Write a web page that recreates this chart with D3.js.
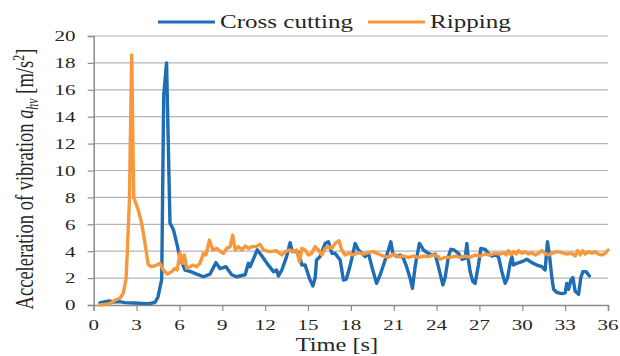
<!DOCTYPE html>
<html>
<head>
<meta charset="utf-8">
<script src="https://cdn.jsdelivr.net/npm/d3@7"></script>
<style>
  html, body { margin: 0; padding: 0; background: #fff; }
  svg { display: block; }
  text { font-family: "Liberation Serif", "Times New Roman", serif; fill: #262626; }
</style>
</head>
<body>
<svg id="chart" width="620" height="356"></svg>
<script>
// ---- data ----
const seriesNames = ["Cross cutting", "Ripping"];
const xTicks = [0, 3, 6, 9, 12, 15, 18, 21, 24, 27, 30, 33, 36];
const yTicks = [0, 2, 4, 6, 8, 10, 12, 14, 16, 18, 20];

const crossTime = [0.44,0.8,1.1,1.4,1.8,2.2,2.8,3.4,3.8,4.1,4.3,4.5,4.76,4.9,5.1,5.34,5.58,5.81,6.04,6.39,6.74,7.21,7.68,8.14,8.56,8.84,9.26,9.66,10.0,10.6,10.83,10.95,11.45,11.8,12.2,12.58,12.8,12.93,13.17,13.5,13.75,13.9,14.1,14.33,14.57,14.8,15.1,15.34,15.5,15.6,15.85,16.2,16.43,16.67,16.9,17.25,17.48,17.67,17.9,18.07,18.3,18.53,18.77,19.0,19.23,19.47,19.8,20.05,20.4,20.63,20.8,20.94,21.2,21.45,21.68,21.9,22.15,22.31,22.5,22.6,22.8,23.08,23.43,23.67,23.9,24.13,24.44,24.6,24.83,25.0,25.23,25.53,25.77,26.0,26.12,26.23,26.35,26.54,26.7,26.93,27.1,27.4,27.63,27.87,28.1,28.33,28.57,28.8,28.96,29.15,29.27,29.38,29.62,29.97,30.32,30.67,31.02,31.37,31.6,31.76,31.9,32.07,32.19,32.42,32.77,33.0,33.12,33.24,33.4,33.54,33.7,33.94,34.1,34.24,34.47,34.7];
const crossValue = [0.15,0.25,0.3,0.22,0.25,0.18,0.15,0.12,0.1,0.15,0.2,0.6,1.9,15.6,18.0,6.1,5.6,4.6,3.5,2.6,2.5,2.3,2.1,2.3,3.15,2.7,2.85,2.25,2.1,2.25,3.1,2.85,4.1,3.6,3.0,2.48,2.6,2.16,2.6,3.6,4.63,3.97,4.0,3.9,2.97,2.97,1.98,1.41,2.0,3.35,3.6,4.58,4.7,3.84,3.84,3.35,1.86,1.9,2.73,3.47,4.58,4.09,3.84,3.6,3.84,2.85,1.61,2.23,3.35,4.09,4.7,3.84,3.6,3.72,3.47,2.85,1.98,1.24,2.85,3.47,4.58,4.09,3.84,3.72,3.78,2.85,1.49,2.04,3.6,4.14,4.09,3.84,3.4,3.47,4.58,3.35,2.48,1.74,1.61,2.97,4.21,4.14,3.84,3.64,3.72,3.59,2.48,1.61,1.98,3.1,3.6,2.97,3.1,3.22,3.4,3.15,2.97,2.85,2.6,4.7,3.72,2.04,1.17,0.93,0.85,0.9,1.61,1.17,1.84,2.04,1.03,0.8,2.04,2.48,2.48,2.16];

const ripTime = [0.44,0.8,1.14,1.5,1.84,2.07,2.26,2.36,2.5,2.66,2.8,3.12,3.36,3.59,3.82,4.06,4.41,4.64,4.87,5.15,5.46,5.69,5.85,6.04,6.23,6.35,6.51,6.74,6.97,7.21,7.44,7.68,7.86,8.1,8.33,8.61,8.84,9.08,9.31,9.55,9.73,9.9,10.13,10.37,10.6,10.83,11.06,11.37,11.65,11.88,12.35,12.8,13.17,13.4,13.75,13.98,14.2,14.4,14.57,14.8,15.03,15.26,15.5,15.73,15.97,16.2,16.43,16.67,16.9,17.18,17.36,17.6,17.83,18.18,18.53,18.88,19.23,19.58,19.93,20.28,20.63,20.98,21.33,21.68,22.03,22.38,22.73,23.08,23.43,23.78,24.13,24.25,24.6,24.95,25.3,25.65,26.0,26.35,26.7,27.05,27.4,27.75,28.1,28.45,28.73,28.87,29.03,29.2,29.38,29.57,29.73,29.97,30.2,30.43,30.67,30.9,31.13,31.37,31.6,31.84,32.07,32.42,32.77,33.12,33.47,33.7,33.87,34.06,34.24,34.4,34.64,34.87,35.1,35.33,35.57,35.8,36.0];
const ripValue = [0.0,0.05,0.1,0.37,0.5,0.87,1.9,4.1,7.8,18.6,8.0,7.06,6.07,4.58,3.0,2.85,2.97,3.1,2.6,2.3,2.48,2.73,2.6,3.89,3.1,3.72,2.73,2.85,2.97,2.85,3.1,3.84,3.72,4.83,4.09,4.21,4.0,3.84,4.21,4.34,5.2,4.09,4.34,4.09,4.39,4.21,4.34,4.34,4.51,4.09,3.97,4.03,3.72,3.97,4.09,3.97,4.09,3.22,4.21,4.09,3.72,3.84,4.34,4.09,3.72,4.21,4.34,4.21,4.58,4.78,4.09,3.72,3.84,3.72,3.89,3.79,3.89,3.97,3.79,3.64,3.54,3.79,3.59,3.64,3.54,3.64,3.54,3.64,3.59,3.72,3.59,3.4,3.54,3.54,3.64,3.54,3.64,3.54,3.72,3.64,3.79,3.72,3.84,3.79,3.89,3.72,4.04,3.72,3.97,3.79,4.04,3.84,3.97,3.79,3.89,3.72,3.84,4.04,3.84,3.72,3.84,3.97,3.89,3.79,3.84,3.64,4.04,3.72,4.04,3.79,3.97,3.84,3.97,3.79,3.72,3.84,4.09];

// ---- layout ----
const colors = ["#1f6db4", "#f7983c"];
const SX = 1.32; // horizontal stretch of the reference's text
const svg = d3.select("#chart");
const x = d3.scaleLinear().domain([0, 36]).range([93.7, 608]);
const y = d3.scaleLinear().domain([0, 20]).range([305, 36]);

// grid lines
svg.append("g").selectAll("line").data(yTicks.filter(d => d > 0)).join("line")
  .attr("x1", x(0)).attr("x2", x(36))
  .attr("y1", d => y(d)).attr("y2", d => y(d))
  .attr("stroke", "#b4b4b4").attr("stroke-width", 1.2);

// y axis
const yAxis = svg.append("g").attr("transform", `translate(${x(0)},0)`)
  .call(d3.axisLeft(y).tickValues(yTicks).tickSize(6).tickFormat(""));
yAxis.select(".domain").attr("stroke", "#8c8c8c").attr("stroke-width", 1.5);
yAxis.selectAll(".tick line").attr("stroke", "#8c8c8c").attr("stroke-width", 1.2);

// x axis
const xAxis = svg.append("g").attr("transform", `translate(0,${y(0)})`)
  .call(d3.axisBottom(x).tickValues(xTicks).tickSize(6).tickFormat(""));
xAxis.select(".domain").attr("stroke", "#8c8c8c").attr("stroke-width", 1.5);
xAxis.selectAll(".tick line").attr("stroke", "#8c8c8c").attr("stroke-width", 1.2);

// tick labels
svg.append("g").selectAll("text").data(yTicks).join("text")
  .attr("transform", d => `translate(75.5,${y(d) + 5.3}) scale(1.45,1)`)
  .attr("text-anchor", "end").style("font-size", "14.5px")
  .text(d => d);
svg.append("g").selectAll("text").data(xTicks).join("text")
  .attr("transform", d => `translate(${x(d)},330) scale(1.45,1)`)
  .attr("text-anchor", "middle").style("font-size", "14.5px")
  .text(d => d);

// lines
const line = d3.line().x(d => x(d[0])).y(d => y(d[1]));
const crossData = crossTime.map((t, i) => [t, crossValue[i]]);
const ripData = ripTime.map((t, i) => [t, ripValue[i]]);
[crossData, ripData].forEach((data, i) => {
  svg.append("path").datum(data)
    .attr("fill", "none").attr("stroke", colors[i])
    .attr("stroke-width", 3.4).attr("stroke-linejoin", "round").attr("stroke-linecap", "round")
    .attr("d", line);
});

// axis titles
svg.append("text")
  .attr("transform", `translate(337,351) scale(${SX},1)`)
  .attr("text-anchor", "middle").style("font-size", "18.5px")
  .text("Time [s]");

const yt = svg.append("text")
  .attr("transform", `translate(33,179) scale(${SX},1) rotate(-90)`)
  .attr("text-anchor", "middle").style("font-size", "18.5px");
yt.append("tspan").text("Acceleration of vibration ");
yt.append("tspan").style("font-style", "italic").text("a");
yt.append("tspan").style("font-style", "italic").style("font-size", "12px").attr("dy", 4).text("hv");
yt.append("tspan").attr("dy", -4).text(" [m/s");
yt.append("tspan").style("font-size", "12px").attr("dy", -7).text("2");
yt.append("tspan").attr("dy", 7).text("]");

// legend
const legendX = [158, 368];
seriesNames.forEach((name, i) => {
  svg.append("line")
    .attr("x1", legendX[i]).attr("x2", legendX[i] + 57)
    .attr("y1", 22).attr("y2", 22)
    .attr("stroke", colors[i]).attr("stroke-width", 3.2);
  svg.append("text")
    .attr("transform", `translate(${legendX[i] + 62},28) scale(${SX},1)`)
    .style("font-size", "19px")
    .text(name);
});
</script>
</body>
</html>
